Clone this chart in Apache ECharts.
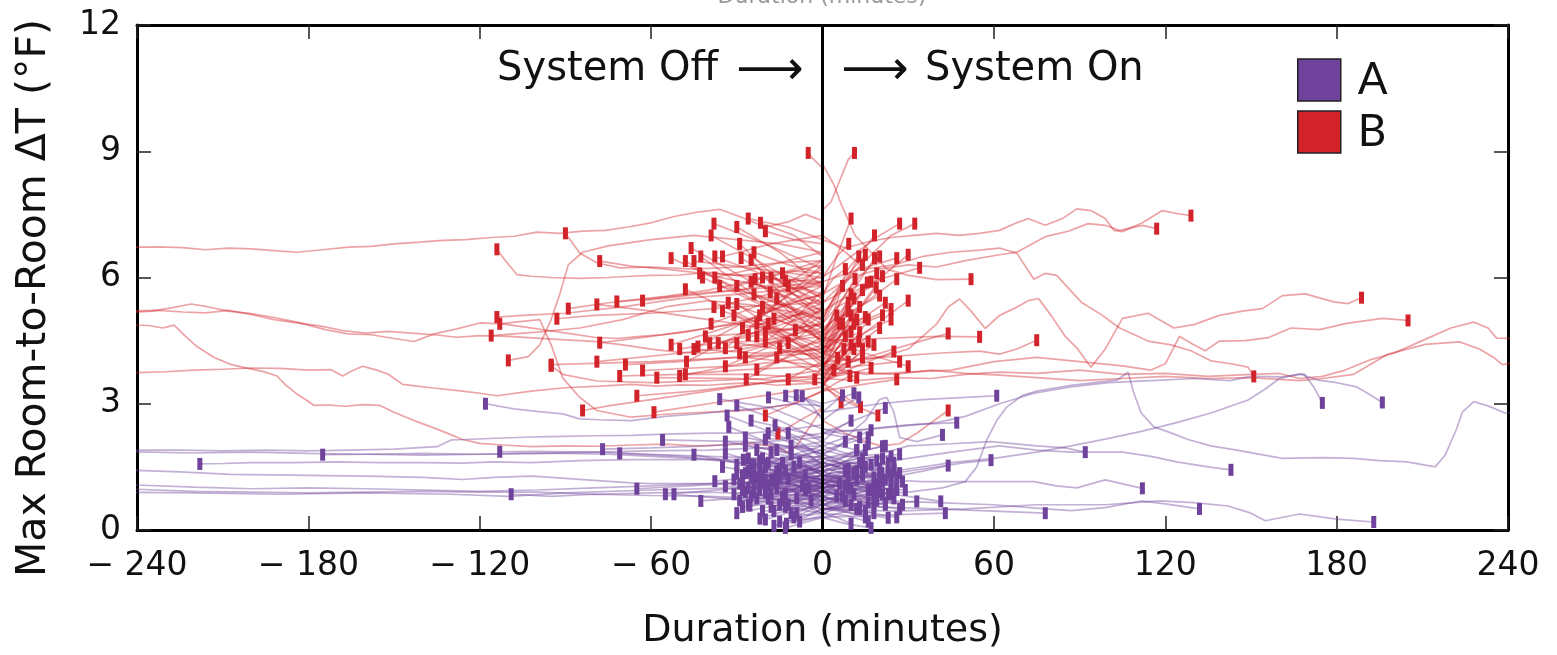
<!DOCTYPE html>
<html><head><meta charset="utf-8">
<script src="https://cdn.jsdelivr.net/npm/echarts@6/dist/echarts.min.js"></script>
<style>html,body{margin:0;padding:0;background:#fff}#c{width:1557px;height:655px}</style>
</head><body><div id="c"></div>
<script>
// ---------- DATA (minutes relative to switch, max room-to-room dT in F) ----------
const xTicks = [-240, -180, -120, -60, 0, 60, 120, 180, 240];
const yTicks = [0, 3, 6, 9, 12];
const seriesNames = ['A', 'B'];

const redOffLong = [
 [[0,7.35],[-6,7.5],[-12,7.32],[-20,7.2],[-28,7.42],[-36,7.62],[-44,7.55],[-52,7.45],[-60,7.3],[-68,7.2],[-76,7.12],[-84,7.1],[-92,7.05],[-100,7.08],[-108,6.98],[-116,6.95],[-125,6.9],[-133,6.88],[-141,6.84],[-150,6.8],[-158,6.74],[-166,6.72],[-175,6.66],[-184,6.6],[-192,6.64],[-200,6.68],[-208,6.7],[-216,6.66],[-224,6.71],[-232,6.73],[-245,6.72]],
 [[0,5.6],[-8,5.45],[-16,5.25],[-24,5.05],[-32,4.9],[-40,4.8],[-48,4.7],[-56,4.64],[-64,4.6],[-72,4.55],[-80,4.58],[-88,4.66],[-96,4.74],[-104,4.82],[-112,4.9],[-120,4.92],[-128,4.78],[-136,4.66],[-143,4.48],[-150,4.55],[-158,4.64],[-166,4.66],[-174,4.76],[-184,4.94],[-192,5.05],[-200,5.14],[-208,5.2],[-215,5.3],[-221,5.37],[-228,5.28],[-235,5.2],[-245,5.16]],
 [[0,4.9],[-8,4.7],[-16,4.5],[-24,4.35],[-32,4.25],[-40,4.2],[-50,4.22],[-60,4.3],[-70,4.4],[-80,4.48],[-90,4.52],[-100,4.56],[-110,4.6],[-120,4.62],[-128,4.58],[-136,4.64],[-144,4.68],[-152,4.72],[-160,4.68],[-168,4.74],[-176,4.85],[-184,4.92],[-192,5.0],[-200,5.12],[-208,5.22],[-216,5.16],[-224,5.18],[-232,5.22],[-245,5.2]],
 [[0,2.9],[-5,2.4],[-9,2.0],[-12,1.85],[-18,2.0],[-26,2.05],[-35,2.02],[-45,2.0],[-55,2.04],[-67,2.02],[-78,1.99],[-90,2.0],[-102,1.98],[-112,2.02],[-120,2.06],[-126,2.15],[-131,2.29],[-137,2.45],[-143,2.6],[-150,2.8],[-155,2.96],[-161,2.98],[-167,2.94],[-173,2.97],[-178,2.96],[-181,3.1],[-184,3.23],[-188,3.45],[-191,3.66],[-196,3.77],[-201,3.84],[-207,3.93],[-213,4.1],[-219,4.36],[-223,4.6],[-227,4.87],[-231,4.8],[-236,4.86],[-245,4.87]],
 [[0,3.5],[-8,3.47],[-16,3.44],[-24,3.5],[-32,3.48],[-40,3.44],[-50,3.45],[-58,3.42],[-67,3.46],[-78,3.42],[-90,3.38],[-102,3.3],[-114,3.19],[-120,3.25],[-126,3.3],[-137,3.38],[-142,3.42],[-147,3.46],[-152,3.7],[-156,3.8],[-161,3.89],[-165,3.77],[-168,3.66],[-172,3.81],[-180,3.8],[-190,3.84],[-200,3.85],[-210,3.82],[-220,3.8],[-230,3.76],[-245,3.73]],
 [[0,6.1],[-10,6.15],[-20,6.1],[-30,6.05],[-40,6.12],[-50,6.06],[-60,6.05],[-67,6.03],[-75,6.0],[-85,5.98],[-95,6.0],[-102,6.03],[-107,6.07],[-111,6.4],[-114,6.67]],
 [[0,6.4],[-15,6.35],[-30,6.25],[-45,6.2],[-60,6.25],[-71,6.23],[-79,6.35],[-85,6.58],[-90,7.05]],
 [[0,5.9],[-15,5.95],[-30,6.05],[-45,6.12],[-55,6.2],[-67,6.27],[-78,6.39]],
 [[0,5.0],[-12,5.2],[-25,5.35],[-40,5.45],[-55,5.3],[-70,5.0],[-85,4.8],[-100,4.7],[-116,4.62]],
 [[0,3.3],[-10,3.0],[-25,2.85],[-40,2.8],[-55,2.75],[-67,2.68],[-79,2.84],[-85,3.15],[-91,3.62],[-95,4.4],[-99,5.0],[-106,4.95],[-113,4.9]],
 [[0,5.8],[-15,5.7],[-30,5.6],[-50,5.5],[-70,5.3],[-90,5.15],[-105,5.1],[-114,5.06]],
 [[0,6.6],[-15,6.8],[-30,6.9],[-45,7.0],[-60,6.9],[-75,6.75],[-84,6.6],[-89,6.3],[-92,5.6],[-95,5.0],[-99,4.4],[-103,4.12],[-110,4.03]],
 [[0,3.8],[-20,3.6],[-40,3.55],[-60,3.5],[-79,3.54],[-91,3.7],[-95,3.9]],
 [[0,5.9],[-20,5.75],[-40,5.65],[-60,5.5],[-75,5.4],[-89,5.26]],
 [[0,4.7],[-20,4.8],[-40,5.0],[-60,5.2],[-79,5.36]],
 [[0,6.3],[-20,6.0],[-40,5.7],[-55,5.55],[-72,5.43]],
 [[0,5.2],[-20,5.0],[-40,4.8],[-60,4.6],[-78,4.45]],
 [[0,4.6],[-25,4.4],[-50,4.2],[-79,4.0]],
 [[0,4.2],[-30,4.1],[-50,4.0],[-69,3.93]],
 [[0,3.9],[-30,3.8],[-50,3.7],[-71,3.66]],
 [[0,3.6],[-20,3.5],[-40,3.3],[-60,3.1],[-75,2.95],[-84,2.84]],
 [[0,5.4],[-30,5.3],[-60,5.15],[-80,5.1],[-93,5.02]],
 [[0,4.3],[-30,4.1],[-60,4.0],[-95,3.93]]
];

const redOffShort = [
 [[0,6.2],[-20,6.8],[-38,7.28]],[[0,5.8],[-15,6.6],[-30,7.2]],[[0,6.9],[-12,7.2],[-26,7.4]],
 [[0,6.5],[-10,7.0],[-21.7,7.3]],[[0,5.5],[-20,6.3],[-39,7.0]],[[0,5.2],[-25,5.9],[-46,6.7]],
 [[0,5.0],[-25,5.6],[-53,6.46]],[[0,4.8],[-25,5.5],[-48,6.39]],[[0,6.0],[-22,6.2],[-45,6.39]],
 [[0,4.5],[-20,5.4],[-42.6,6.5]],[[0,5.6],[-18,6.0],[-37.7,6.5]],[[0,7.0],[-18,6.8],[-35,6.5]],
 [[0,5.3],[-14,5.9],[-28.5,6.46]],[[0,4.4],[-12,5.4],[-25,6.42]],[[0,4.7],[-20,5.3],[-42,6.0]],
 [[0,6.6],[-18,6.3],[-37.7,6.0]],[[0,5.0],[-15,5.9],[-29,6.8]],[[0,4.6],[-12,5.2],[-23.6,5.96]],
 [[0,5.4],[-9,5.7],[-18,6.0]],[[0,6.2],[-6,6.0],[-13,5.92]],[[0,4.2],[-25,5.0],[-48,5.72]],
 [[0,4.9],[-12,5.3],[-24,5.6]],[[0,6.4],[-9,6.0],[-18.3,5.65]],[[0,4.0],[-15,4.7],[-30,5.37]],
 [[0,6.0],[-30,5.7],[-63,5.45]],[[0,5.8],[-25,5.0],[-53,4.4]],[[0,4.9],[-25,4.6],[-50,4.3]],
 [[0,5.5],[-25,4.8],[-47.6,4.0]],[[0,4.3],[-22,4.2],[-45,4.3]],[[0,6.1],[-20,5.2],[-43.6,4.36]],
 [[0,5.9],[-20,5.4],[-39,4.9]],[[0,4.8],[-20,4.5],[-39.5,4.44]],[[0,5.2],[-18,4.8],[-36.5,4.44]],
 [[0,6.3],[-17,5.3],[-34,4.32]],[[0,4.1],[-15,4.3],[-30,4.44]],[[0,5.4],[-13,5.0],[-26,4.63]],
 [[0,3.8],[-12,4.2],[-23,4.6]],[[0,5.7],[-10,5.0],[-20,4.48]],[[0,4.5],[-8,4.8],[-17,5.02]],
 [[0,5.0],[-8,4.6],[-15,4.32]],[[0,3.9],[-6,4.2],[-12,4.44]],[[0,5.3],[-5,5.0],[-9.5,4.75]],
 [[0,4.6],[-13,4.1],[-26.7,3.58]],[[0,5.1],[-17,4.4],[-34,3.89]],[[0,4.4],[-12,4.1],[-23,3.81]],
 [[0,4.0],[-6,3.8],[-12,3.58]],[[0,3.9],[-2.7,3.58]],[[0,4.5],[-25,4.0],[-50,3.66]],
 [[0,3.6],[-25,3.7],[-48,3.7]],[[0,4.1],[-30,3.9],[-63,3.79]],[[0,3.5],[-30,3.6],[-58,3.62]],
 [[0,3.3],[-10,3.0],[-20,2.72]],[[0,2.9],[-8,2.6],[-15.6,2.29]],[[0,8.6],[-3,8.8],[-5,8.96]],
 [[0,3.7],[-20,3.5],[-45,3.3],[-65,3.19]],[[0,3.4],[-20,3.2],[-40,3.0],[-59,2.8]],
 [[0,4.5],[-10,4.9],[-21,5.3]],[[0,5.1],[-12,5.5],[-25,5.9]],[[0,4.2],[-15,4.6],[-31,5.1]],
 [[0,5.6],[-11,5.4],[-22,5.1]],[[0,4.8],[-8,5.1],[-16,5.5]],[[0,6.1],[-12,6.3],[-24,6.6]],
 [[0,4.0],[-10,4.3],[-20,4.7]],[[0,5.3],[-14,5.0],[-28,4.8]],[[0,4.6],[-16,5.0],[-33,5.4]],
 [[0,5.8],[-7,5.9],[-14,6.1]],[[0,3.9],[-13,4.0],[-27,4.1]],[[0,5.0],[-18,5.5],[-36,5.8]],
 [[0,4.4],[-9,4.6],[-19,4.9]],[[0,6.4],[-15,6.1],[-30,5.8]],[[0,4.9],[-20,4.7],[-41,4.6]],
 [[0,5.5],[-6,5.7],[-12,5.8]],[[0,4.3],[-17,4.8],[-35,5.2]],[[0,3.7],[-8,3.9],[-16,4.1]],
 [[0,5.2],[-10,5.6],[-21,6.0]],[[0,4.7],[-14,4.5],[-29,4.2]],[[0,6.8],[-10,6.9],[-20,7.1]],
 [[0,5.9],[-19,5.6],[-38,5.3]],[[0,4.1],[-11,4.5],[-23,4.9]],[[0,5.4],[-21,5.8],[-43,6.1]]
];

const redOnLong = [
 [[0,6.9],[8,6.7],[16,6.85],[24,6.95],[32,7.0],[40,7.05],[48,7.0],[55,7.05],[62,7.12],[68,7.3],[72,7.4],[78,7.24],[84,7.4],[89,7.63],[94,7.59],[99,7.4],[102,7.12],[105,7.09],[112,7.3],[119,7.59],[124,7.52],[129,7.47]],
 [[0,5.6],[10,6.0],[20,6.2],[30,6.3],[40,6.25],[50,6.4],[62,6.54],[68,6.6],[78,6.97],[86,7.1],[93,7.28],[99,7.24],[104,7.12],[112,7.24],[117,7.16]],
 [[0,7.0],[8,6.6],[15,6.2],[25,6.3],[35,6.5],[45,6.6],[55,6.65],[62,6.7],[68,6.58],[74,5.96],[78,6.1],[82,6.05],[90.5,5.42],[98,5.1],[104,4.8],[114,4.49],[122,4.4],[129,4.26],[136,4.02],[143,3.95],[149,3.87],[151,3.65]],
 [[0,4.2],[10,4.0],[20,4.1],[30,4.3],[40,4.9],[44,5.3],[48,5.49],[52,5.2],[57,4.79],[62,5.1],[67,5.26],[72,5.45],[75.6,5.5],[80,5.1],[85,4.6],[89,4.33],[94,3.87],[99,4.3],[105,5.03],[114,5.15],[123,4.8],[130,4.88],[139,5.1],[147,5.2],[154,5.26],[161,5.57],[169,5.61],[179,5.42],[184,5.38],[188.7,5.52]],
 [[0,3.9],[15,3.7],[30,3.75],[45,3.8],[60,4.0],[75,4.1],[90,4.0],[105,3.9],[115,3.8],[120,3.95],[125,4.6],[130,4.4],[134,4.26],[139,4.49],[148,4.5],[156,4.57],[164,4.8],[174,4.76],[183.5,4.91],[196,5.03],[205,4.98]],
 [[0,3.6],[12,3.55],[25,3.62],[38,3.6],[50,3.7],[62,3.75],[75,3.72],[90,3.8],[105,3.7],[120,3.72],[135,3.65],[150,3.7],[160,3.72],[167,3.6],[175,3.65],[183,3.8],[192,4.05],[200,4.2],[210,4.5],[220,4.8],[228,4.94],[233,4.8],[236,4.56],[245,4.55]],
 [[0,3.7],[12,3.75],[25,3.7],[38,3.8],[50,3.72],[62,3.68],[75,3.62],[90,3.55],[105,3.6],[120,3.65],[135,3.6],[150,3.62],[160,3.58],[167,3.55],[175,3.6],[186,3.7],[198,4.18],[211,4.41],[223,4.47],[230,4.3],[235,4.1],[238,3.93],[245,4.0]],
 [[0,4.0],[20,4.1],[40,4.2],[55,4.25],[62,4.18],[68,4.3],[75,4.51]],
 [[0,4.5],[20,4.55],[40,4.6],[55,4.59]],
 [[0,3.8],[20,4.2],[35,4.5],[44,4.67]],
 [[0,8.7],[4,8.2],[6.5,7.75],[11.4,7.0],[17,6.6],[22.5,6.2],[30,6.05],[40,5.95],[52,5.96]],
 [[0,7.6],[3,7.8],[6,8.3],[9,8.8],[11.2,8.96]],
 [[0,6.0],[10,6.5],[20,7.0],[27,7.28]],
 [[0,5.4],[12,6.2],[24,7.0],[32.3,7.28]],
 [[0,2.6],[8,2.3],[15,2.1],[20.7,2.0],[27,2.05],[33,2.3],[38,2.55],[44,2.84]]
];

const redOnShort = [
 [[0,5.5],[5,6.5],[10,7.4]],[[0,5.0],[9,6.2],[18.2,7.0]],[[0,6.0],[5,6.5],[9.2,6.8]],
 [[0,4.4],[6,5.6],[12.7,6.5]],[[0,5.0],[8,6.0],[15,6.54]],[[0,4.2],[9,5.5],[18.2,6.46]],
 [[0,4.7],[10,5.8],[20,6.5]],[[0,5.9],[13,6.2],[26,6.46]],[[0,4.5],[15,5.7],[30,6.54]],
 [[0,5.2],[17,5.9],[34,6.23]],[[0,4.3],[13,5.3],[26,5.96]],[[0,3.9],[10,5.0],[21,6.03]],
 [[0,4.6],[6,5.4],[11.4,5.96]],[[0,5.4],[8,5.7],[15.7,5.88]],[[0,4.0],[9,4.9],[18.8,5.76]],
 [[0,4.8],[10,5.2],[20,5.57]],[[0,3.7],[15,4.7],[30,5.45]],[[0,4.4],[12,4.9],[24,5.25]],
 [[0,4.1],[5,4.8],[9,5.4]],[[0,3.8],[5,4.5],[10,5.1]],[[0,4.5],[8,4.8],[15,5.06]],
 [[0,3.9],[5,4.3],[10,4.71]],[[0,3.6],[6,4.1],[12.7,4.48]],[[0,4.2],[8,4.4],[16,4.48]],
 [[0,3.5],[12,3.9],[25,4.24]],[[0,4.6],[15,4.2],[30,3.89]],[[0,3.3],[13,3.45],[26,3.58]],
 [[0,3.6],[8,3.7],[17,3.85]],[[0,4.0],[6,3.8],[12,3.62]],[[0,3.3],[5,3.5],[9.6,3.66]],
 [[0,3.8],[5.3,4.09]],[[0,3.5],[7,3.2],[13.3,2.92]],[[0,3.4],[10,3.0],[19.4,2.72]],
 [[0,3.5],[6.5,3.03]],[[0,4.9],[4,5.4],[7,5.8]],[[0,5.6],[4,6.0],[8,6.2]],
 [[0,4.3],[3,4.6],[6,4.9]],[[0,3.9],[4,4.1],[7.5,4.3]],[[0,3.5],[4,3.8]],
 [[0,4.4],[5,4.2],[9,4.0]],[[0,4.2],[6,4.6],[11,4.9]],[[0,4.6],[7,5.0],[13,5.3]],
 [[0,3.7],[7,3.9],[14,4.1]],[[0,4.7],[5,5.1]],[[0,3.4],[5,3.9],[11,4.3]],
 [[0,3.8],[6,4.4],[12,5.0]],[[0,4.1],[5,4.7],[10,5.6]],[[0,3.6],[8,4.2],[16,5.0]],
 [[0,4.4],[7,5.0],[14,5.7]],[[0,3.9],[4,4.2],[8,4.6]],[[0,4.7],[9,5.4],[19,6.1]],
 [[0,3.5],[7,3.8],[14,4.3]],[[0,4.2],[11,4.9],[22,5.4]],[[0,4.9],[5,5.3],[11,5.5]],
 [[0,3.7],[10,4.3],[20,4.8]],[[0,4.3],[6,4.5],[13,4.7]],[[0,3.4],[5,3.9],[10,4.4]],
 [[0,4.6],[8,5.2],[17,5.9]],[[0,3.9],[12,4.6],[24,5.0]],[[0,4.0],[3,4.4],[7,4.9]],
 [[0,5.1],[7,5.8],[14,6.3]],[[0,3.6],[9,4.0],[18,4.4]],[[0,4.5],[4,4.9],[9,5.2]],
 [[0,3.8],[13,3.9],[27,4.0]],[[0,4.3],[10,4.8],[21,5.1]]
];

const purpleOffLong = [
 [[0,2.95],[-10,3.0],[-20,2.9],[-30,2.85],[-45,2.75],[-55,2.7],[-67,2.6],[-78,2.62],[-85,2.64],[-91,2.76],[-100,2.82],[-108,2.88],[-118,3.0]],
 [[0,2.5],[-10,2.4],[-25,2.3],[-40,2.3],[-55,2.28],[-67,2.25],[-80,2.24],[-95,2.22],[-102,2.21],[-114,2.18],[-125,2.15],[-130,2.14],[-135,1.98],[-150,1.92],[-165,1.9],[-180,1.88],[-195,1.9],[-210,1.88],[-225,1.9],[-245,1.9]],
 [[0,1.75],[-15,1.7],[-30,1.68],[-50,1.67],[-67,1.67],[-85,1.65],[-102,1.6],[-115,1.62],[-126,1.59],[-140,1.6],[-155,1.6],[-170,1.62],[-185,1.6],[-200,1.6],[-210,1.58],[-218,1.57]],
 [[0,2.0],[-20,1.95],[-40,1.9],[-60,1.88],[-80,1.85],[-100,1.82],[-120,1.8],[-140,1.82],[-160,1.8],[-175,1.79]],
 [[0,1.4],[-15,1.5],[-30,1.6],[-45,1.7],[-60,1.75],[-75,1.8],[-90,1.82],[-105,1.82],[-120,1.8],[-140,1.78],[-160,1.8],[-180,1.82],[-200,1.85],[-220,1.83],[-245,1.86]],
 [[0,1.6],[-20,1.7],[-40,1.75],[-60,1.8],[-80,1.85],[-100,1.87],[-113,1.86]],
 [[0,2.2],[-20,2.1],[-40,2.0],[-60,1.95],[-77,1.92]],
 [[0,1.5],[-25,1.6],[-50,1.75],[-71,1.82]],
 [[0,1.0],[-15,1.05],[-30,1.1],[-45,1.1],[-60,1.1],[-67,1.12],[-80,1.18],[-95,1.25],[-102,1.28],[-115,1.25],[-126,1.2],[-140,1.25],[-160,1.28],[-180,1.3],[-207,1.32],[-225,1.38],[-245,1.43]],
 [[0,1.2],[-20,1.15],[-40,1.1],[-60,1.05],[-80,1.0],[-100,0.95],[-120,0.92],[-140,0.95],[-160,0.98],[-180,1.0],[-200,0.98],[-220,1.02],[-245,1.08]],
 [[0,0.8],[-20,0.85],[-40,0.9],[-60,0.88],[-80,0.85],[-100,0.9],[-120,0.9],[-140,0.92],[-160,0.9],[-180,0.88],[-200,0.9],[-220,0.92],[-245,0.98]],
 [[0,0.7],[-20,0.75],[-40,0.8],[-60,0.82],[-80,0.85],[-95,0.8],[-109,0.85]],
 [[0,1.05],[-30,1.0],[-60,0.95],[-90,0.88],[-110,0.8],[-130,0.85],[-160,0.88],[-190,0.85],[-220,0.88],[-245,0.9]],
 [[0,2.4],[-18,2.9],[-36,3.11]],[[0,2.1],[-15,2.6],[-30,2.96]],[[0,1.9],[-28,2.1],[-56,2.14]],
 [[0,1.3],[-32,1.1],[-65,0.98]],[[0,1.2],[-28,1.0],[-55,0.85]],[[0,0.6],[-26,0.7],[-52,0.85]],
 [[0,1.1],[-22,1.5],[-45,1.79]],[[0,1.0],[-21,0.8],[-42.6,0.69]]
];

const purpleOffShort = [
 [[0,1.8],[-17,2.3],[-33.4,2.72]],[[0,1.3],[-16,2.0],[-32.8,2.45]],[[0,1.6],[-17,1.9],[-34,2.1]],
 [[0,1.2],[-17,1.5],[-34,1.82]],[[0,1.4],[-18,1.3],[-37.7,1.16]],[[0,0.9],[-17,1.0],[-34,1.04]],
 [[0,2.7],[-9,3.0],[-18.9,3.15]],[[0,2.9],[-6,3.1],[-12.9,3.19]],[[0,3.0],[-9.2,3.2]],
 [[0,2.6],[-3,2.9],[-7.1,3.18]],[[0,1.7],[-8,2.1],[-16.6,2.49]],[[0,1.0],[-14,1.3],[-27.7,1.67]],
 [[0,1.1],[-12,0.8],[-25.4,0.58]],[[0,0.7],[-11,0.5],[-21.9,0.27]],[[0,0.5],[-6,0.3],[-12.6,0.15]],
 [[0,0.8],[-14,1.0],[-28,1.3]],[[0,1.5],[-12,1.3],[-24,1.05]],[[0,1.2],[-11,1.3],[-22,1.4]],
 [[0,1.0],[-10,0.95],[-20,0.9]],[[0,0.6],[-9,0.9],[-18,1.2]],[[0,0.9],[-7,0.8],[-15,0.6]],
 [[0,0.6],[-5,0.45],[-10,0.3]],[[0,0.35],[-8,0.2]],[[0,0.5],[-8,0.3],[-17,0.1]],
 [[0,1.6],[-13,1.2],[-27,0.9]],[[0,1.9],[-15,1.6],[-30,1.35]],[[0,1.4],[-12,1.6],[-23,1.9]],
 [[0,1.1],[-7,1.35],[-14,1.6]],[[0,1.5],[-5,1.8],[-11,2.0]],[[0,1.0],[-6,1.3]],
 [[0,0.9],[-4,0.7]],[[0,1.8],[-9,2.0],[-19,2.3]],[[0,2.2],[-12,2.4],[-25,2.6]],
 [[0,0.9],[-15,0.6],[-30,0.4]],[[0,1.0],[-17,1.3],[-35,1.5]],[[0,0.3],[-13,0.05]],
 [[0,1.3],[-13,1.1],[-26,1.0]],[[0,1.2],[-9,1.0],[-19,0.75]],[[0,0.8],[-11,1.1],[-22,1.25]],
 [[0,1.7],[-8,1.5],[-16,1.3]],[[0,0.4],[-7,0.6],[-14,0.8]],[[0,1.1],[-10,1.4],[-21,1.7]],
 [[0,0.7],[-6,0.95],[-12,1.2]],[[0,1.4],[-15,1.1],[-31,0.85]],[[0,2.0],[-10,1.8],[-20,1.55]],
 [[0,1.2],[-14,1.0],[-28,0.95]],[[0,0.9],[-12,1.1],[-25,1.25]],[[0,1.5],[-10,1.3],[-21,1.15]],
 [[0,0.7],[-9,0.9],[-19,1.05]],[[0,1.1],[-7,1.2],[-15,1.45]],[[0,1.3],[-6,1.1],[-13,0.85]],
 [[0,0.6],[-11,0.7],[-23,0.75]],[[0,1.4],[-13,1.55],[-26,1.7]],[[0,0.8],[-8,0.6],[-17,0.45]],
 [[0,1.0],[-4,0.9],[-9,0.75]],[[0,1.6],[-8,1.4],[-17,1.15]],[[0,1.2],[-10,1.3],[-20,1.5]],
 [[0,0.5],[-12,0.6],[-24,0.9]],[[0,1.8],[-6,1.6],[-13,1.4]],[[0,1.0],[-15,1.1],[-29,1.1]],
 [[0,0.9],[-3,1.0],[-7,1.05]],[[0,1.3],[-12,1.2],[-24,1.3]],[[0,0.4],[-5,0.35],[-11,0.4]],
 [[0,1.1],[-11,0.95],[-22,1.0]],[[0,1.5],[-9,1.7],[-18,1.85]],[[0,0.8],[-13,0.85],[-26,0.6]],
 [[0,1.9],[-12,1.7],[-25,1.55]],[[0,1.2],[-5,1.35],[-10,1.5]],[[0,0.6],[-10,0.45],[-20,0.25]],
 [[0,1.0],[-8,1.25],[-16,1.4]],[[0,1.4],[-14,1.2],[-28,1.05]],[[0,0.9],[-6,0.75],[-12,0.6]],
 [[0,1.7],[-13,1.85],[-27,2.0]],[[0,1.1],[-9,1.0],[-18,0.85]],[[0,0.7],[-14,0.8],[-29,0.7]],
 [[0,1.3],[-4,1.45],[-8,1.6]],[[0,2.1],[-8,2.0],[-16,1.9]],[[0,1.0],[-10,1.15],[-21,1.3]],
 [[0,0.3],[-7,0.25],[-15,0.2]],[[0,1.2],[-13,1.35],[-26,1.4]],[[0,1.6],[-11,1.45],[-23,1.25]],
 [[0,0.8],[-3,0.85],[-6,0.95]],[[0,1.5],[-15,1.3],[-31,1.2]],[[0,1.0],[-7,0.85],[-14,0.7]],
 [[0,2.3],[-10,2.2],[-20,2.15]],[[0,1.1],[-12,1.3],[-24,1.55]],[[0,0.6],[-6,0.5],[-13,0.55]],
 [[0,1.4],[-8,1.3],[-16,1.0]],[[0,0.9],[-11,1.0],[-22,0.95]],[[0,1.2],[-2,1.1],[-5,1.0]],
 [[0,1.8],[-13,2.0],[-27,2.2]],[[0,1.3],[-10,1.1],[-20,1.2]],[[0,0.5],[-9,0.7],[-18,0.55]],
 [[0,1.0],[-12,0.9],[-25,0.8]],[[0,1.6],[-5,1.75],[-11,1.8]],[[0,0.7],[-4,0.55],[-9,0.4]],
 [[0,1.2],[-15,1.4],[-30,1.55]],[[0,2.0],[-6,2.15],[-12,2.3]],[[0,0.9],[-8,1.05],[-17,1.2]],
 [[0,1.4],[-11,1.6],[-22,1.65]],[[0,1.1],[-13,1.25],[-27,1.35]],[[0,0.4],[-10,0.5],[-21,0.45]],
 [[0,1.3],[-7,1.5],[-15,1.25]],[[0,0.8],[-14,0.65],[-28,0.55]],[[0,1.7],[-9,1.55],[-19,1.6]]
];

const purpleOnLong = [
 [[0,0.9],[15,0.85],[30,0.9],[42,1.0],[50,1.15],[54,1.5],[57.5,2.14],[61,2.6],[64.5,2.92],[70,3.2],[75,3.3],[87,3.44],[95,3.5],[103,3.56],[107,3.75],[109,3.25],[111.6,2.78],[116,2.45],[121.5,2.32],[128,2.15],[136,2.0],[145,1.9],[161,1.7],[175,1.72],[186,1.7],[195,1.65],[204.6,1.62],[214.5,1.5],[218,1.78],[222,2.4],[224,2.8],[228,3.05],[233,2.95],[239,2.78],[245,2.8]],
 [[0,2.4],[10,2.35],[25,2.45],[40,2.55],[50,2.7],[62,3.0],[74,3.25],[87,3.4],[100,3.5],[115,3.55],[130,3.6],[142.6,3.55],[150,3.65],[161,3.64],[168.6,3.71],[172,3.4],[175,3.02]],
 [[0,1.2],[15,1.3],[30,1.45],[45,1.6],[60,1.7],[75,1.85],[87,2.0],[99,2.16],[112,2.35],[124,2.55],[136,2.78],[149,3.09],[155,3.35],[160,3.6],[167,3.71],[173.6,3.56],[180,3.5],[187,3.4],[192,3.2],[196,3.03]],
 [[0,2.0],[8,2.2],[15,2.6],[20,3.1],[22.5,3.15],[25,2.8],[27,2.2],[33,2.1],[42,2.26]],
 [[0,2.8],[10,2.9],[20,3.0],[35,3.1],[50,3.15],[61,3.19]],
 [[0,2.3],[15,2.4],[30,2.5],[47,2.55]],
 [[0,1.1],[20,1.3],[35,1.45],[50,1.6],[59,1.66]],
 [[0,1.0],[20,1.2],[35,1.4],[44,1.53]],
 [[0,1.1],[20,0.9],[41.4,0.68]],
 [[0,0.5],[15,0.6],[33,0.68]],
 [[0,0.3],[20,0.35],[43,0.4]],
 [[0,0.6],[20,0.55],[40,0.5],[60,0.45],[78,0.4]],
 [[0,1.7],[20,1.8],[30,2.0],[45,2.05],[59,2.1],[75,2.0],[85,1.95],[92,1.85]],
 [[0,1.4],[15,1.55],[30,1.7],[45,1.85],[62,2.0],[75,1.9],[87,1.85],[105,1.85],[115,1.75],[124,1.62],[135,1.5],[143,1.43]],
 [[0,1.3],[20,1.2],[35,1.15],[59,1.15],[74,1.15],[82,1.05],[89,1.0],[99,1.19],[112,0.99]],
 [[0,0.75],[20,0.7],[40,0.65],[60,0.6],[78,0.5],[87,0.46],[99,0.53],[111.6,0.69],[120,0.62],[132,0.5]],
 [[0,0.5],[25,0.45],[50,0.5],[75,0.6],[99,0.6],[118,0.69],[130,0.65],[142,0.57],[150,0.4],[155,0.22],[167,0.38],[180,0.26],[193,0.19]]
];

const purpleOnShort = [
 [[0,2.1],[5,2.4],[10,2.6]],[[0,1.8],[8,2.1],[17,2.37]],[[0,1.5],[10,1.8],[21,1.99]],
 [[0,2.4],[6,2.3],[13,2.2]],[[0,1.2],[7,1.6],[15,1.9]],[[0,1.6],[6,1.7],[12,1.9]],
 [[0,1.0],[10,1.2],[20.7,1.36]],[[0,1.7],[11,1.5],[23,1.38]],[[0,0.9],[12,1.0],[24,1.2]],
 [[0,0.8],[13,0.6],[27,0.5]],[[0,0.5],[11,0.4],[23,0.29]],[[0,1.1],[9,0.8],[18,0.6]],
 [[0,0.6],[7,0.45],[15,0.3]],[[0,0.4],[5,0.3],[10,0.15]],[[0,1.3],[10,1.1],[20,0.9]],
 [[0,1.1],[12,1.4],[25,1.6]],[[0,1.1],[8,1.4]],[[0,1.0],[5,0.8]],
 [[0,0.7],[9,0.9],[19,1.1]],[[0,0.8],[6,0.65],[13,0.5]],[[0,2.8],[7,3.2]],
 [[0,3.0],[5,3.1],[11,3.25]],[[0,2.6],[6,2.9],[12.7,3.15]],[[0,2.3],[11,2.6],[22,2.9]],
 [[0,1.9],[8,2.05],[16,2.2]],[[0,1.3],[9,1.0]],[[0,0.3],[8,0.15],[17,0.05]],
 [[0,0.5],[11,0.6],[22,0.65]],[[0,1.2],[13,1.1],[26,0.95]],[[0,2.0],[7,1.85],[14,1.7]],
 [[0,1.4],[9,1.2],[18,1.0]],[[0,0.9],[7,1.1],[14,1.3]],[[0,1.6],[10,1.45],[20,1.25]],
 [[0,0.6],[8,0.8],[16,0.95]],[[0,1.2],[4,1.0],[8,0.7]],[[0,1.8],[6,1.6],[12,1.4]],
 [[0,0.45],[10,0.7],[21,0.85]],[[0,1.5],[12,1.7],[24,1.75]],
 [[0,1.1],[7,1.2],[14,1.3]],[[0,0.9],[9,0.8],[19,0.7]],[[0,1.3],[12,1.15],[24,1.05]],
 [[0,0.6],[5,0.75],[11,0.85]],[[0,1.5],[8,1.6],[17,1.55]],[[0,1.0],[11,1.1],[22,1.2]],
 [[0,0.7],[13,0.9],[26,1.0]],[[0,1.2],[4,1.3],[9,1.45]],[[0,1.6],[10,1.4],[20,1.2]],
 [[0,0.8],[6,0.7],[13,0.55]],[[0,1.4],[12,1.5],[25,1.45]],[[0,1.0],[3,0.9],[7,0.8]],
 [[0,0.5],[9,0.55],[18,0.4]],[[0,1.2],[14,1.1],[28,1.15]],[[0,1.8],[7,1.65],[15,1.5]],
 [[0,0.9],[10,1.05],[21,1.15]],[[0,1.3],[6,1.4],[12,1.2]],[[0,0.4],[8,0.35],[16,0.2]],
 [[0,1.1],[11,0.95],[23,0.85]],[[0,1.5],[13,1.7],[27,1.8]],[[0,0.8],[5,0.95],[10,1.0]],
 [[0,1.9],[9,1.75],[19,1.65]],[[0,1.2],[12,1.35],[24,1.3]],[[0,0.6],[7,0.5],[15,0.45]],
 [[0,1.0],[10,1.2],[20,1.45]],[[0,1.4],[4,1.25],[8,1.05]],[[0,0.7],[12,0.8],[25,0.75]],
 [[0,1.7],[11,1.85],[22,2.0]],[[0,1.1],[8,1.0],[17,0.95]],[[0,0.3],[6,0.4],[12,0.5]],
 [[0,1.3],[13,1.25],[27,1.35]],[[0,2.1],[6,2.0],[12,1.9]],[[0,1.0],[9,0.9],[18,0.75]],
 [[0,0.6],[11,0.7],[22,0.6]],[[0,1.6],[5,1.5],[11,1.35]],[[0,1.2],[14,1.0],[29,0.95]],
 [[0,0.9],[3,1.0],[6,1.1]],[[0,1.4],[10,1.6],[21,1.7]],[[0,0.5],[13,0.45],[26,0.3]],
 [[0,2.3],[8,2.2],[16,2.05]],[[0,1.1],[7,1.3],[14,1.5]],[[0,0.8],[12,0.95],[24,0.85]],
 [[0,1.5],[9,1.3],[18,1.25]],[[0,1.0],[4,1.1],[9,1.2]],[[0,1.7],[12,1.5],[25,1.4]],
 [[0,0.7],[8,0.6],[16,0.65]],[[0,1.2],[10,1.05],[20,1.0]],[[0,0.4],[5,0.5],[10,0.6]],
 [[0,1.3],[11,1.45],[23,1.6]],[[0,0.9],[14,0.8],[28,0.6]],[[0,1.8],[4,1.9],[8,2.1]],
 [[0,1.0],[13,1.15],[26,1.25]],[[0,0.6],[9,0.75],[19,0.9]],[[0,1.4],[6,1.55],[13,1.6]],
 [[0,1.1],[12,1.2],[24,0.95]]
];

// ---------- BUILD ----------
const RED = '#d2232a', PURPLE = '#6f429b';
const XMIN = -240, XMAX = 240;
function lineSeries(lines, color, z) {
  return lines.map(pts => ({
    type: 'line', data: pts, showSymbol: false, symbol: 'none', silent: true,
    lineStyle: { color: color, width: 1.7, opacity: 0.42 }, z: z, animation: false
  }));
}
function endMarkers(lines) {
  return lines.map(l => l[l.length - 1]).filter(p => p[0] >= XMIN && p[0] <= XMAX);
}
const redLines = [].concat(redOffLong, redOffShort, redOnLong, redOnShort);
const purpleLines = [].concat(purpleOffLong, purpleOffShort, purpleOnLong, purpleOnShort);

const series = [].concat(
  lineSeries(redLines, RED, 2),
  lineSeries(purpleLines, PURPLE, 3),
  [{
    name: seriesNames[1], type: 'scatter', data: endMarkers(redLines), symbol: 'rect',
    symbolSize: [5, 12], itemStyle: { color: RED, opacity: 1 }, z: 5, silent: true, animation: false
  }, {
    name: seriesNames[0], type: 'scatter', data: endMarkers(purpleLines), symbol: 'rect',
    symbolSize: [5, 12], itemStyle: { color: PURPLE, opacity: 1 }, z: 6, silent: true, animation: false,
    markLine: { silent: true, symbol: 'none', label: { show: false }, animation: false,
      lineStyle: { color: '#000', width: 3, type: 'solid' }, data: [{ xAxis: 0 }] }
  }]
);

const tickFont = '"DejaVu Sans", sans-serif';
const fmtX = v => v < 0 ? '\u2212 ' + Math.abs(v) : String(v);
const axisCommon = {
  type: 'value', splitLine: { show: false },
  axisLine: { show: true, onZero: false, lineStyle: { color: '#000', width: 3 } },
  axisTick: { show: true, inside: true, length: 14, lineStyle: { color: '#222', width: 1.5 } }
};
const txt = (t, x, y, size, align) => ({ type: 'text', x: x, y: y, silent: true, z: 10,
  style: { text: t, fontSize: size, fontFamily: 'DejaVu Sans', fill: '#111', align: align, verticalAlign: 'middle' } });

const chart = echarts.init(document.getElementById('c'), null, { renderer: 'canvas' });
chart.setOption({
  animation: false,
  backgroundColor: '#fff',
  grid: { left: 137, right: 49, top: 25, bottom: 117 },
  xAxis: [
    Object.assign({}, axisCommon, { position: 'bottom', min: xTicks[0], max: xTicks[xTicks.length - 1], interval: 60,
      name: 'Duration (minutes)', nameLocation: 'middle', nameGap: 82,
      nameTextStyle: { fontSize: 38, fontFamily: tickFont, color: '#111' },
      axisLabel: { fontSize: 33, fontFamily: tickFont, color: '#111', margin: 20, formatter: fmtX } }),
    Object.assign({}, axisCommon, { position: 'top', min: xTicks[0], max: xTicks[xTicks.length - 1], interval: 60,
      axisLabel: { show: false } })
  ],
  yAxis: [
    Object.assign({}, axisCommon, { position: 'left', min: yTicks[0], max: yTicks[yTicks.length - 1], interval: 3,
      axisLabel: { fontSize: 33, fontFamily: tickFont, color: '#111', margin: 16 } }),
    Object.assign({}, axisCommon, { position: 'right', min: yTicks[0], max: yTicks[yTicks.length - 1], interval: 3,
      axisLabel: { show: false } })
  ],
  legend: {
    orient: 'vertical', left: 1292, top: 53, itemWidth: 43, itemHeight: 42, itemGap: 8,
    icon: 'rect', data: seriesNames, selectedMode: false,
    itemStyle: { borderColor: '#222', borderWidth: 1.5 },
    textStyle: { fontSize: 44, fontFamily: 'Lato, sans-serif', color: '#111', padding: [0, 0, 0, 12] }
  },
  graphic: [
    { type: 'text', x: 822, y: 8, silent: true,
      style: { text: 'Duration (minutes)', fontSize: 22, fontFamily: 'DejaVu Sans', fill: '#999', align: 'center', verticalAlign: 'bottom' } },
    { type: 'text', x: 34, y: 298, rotation: Math.PI / 2, silent: true,
      style: { text: 'Max Room-to-Room \u0394T (\u00b0F)', fontSize: 41, fontFamily: 'DejaVu Sans', fill: '#111', align: 'center', verticalAlign: 'middle' } },
    txt('System Off', 718, 70, 40, 'right'),
    txt('\u27f6', 770, 72, 47, 'center'),
    txt('\u27f6', 875, 72, 47, 'center'),
    txt('System On', 925, 70, 40, 'left')
  ],
  series: series
});
</script>
</body></html>
